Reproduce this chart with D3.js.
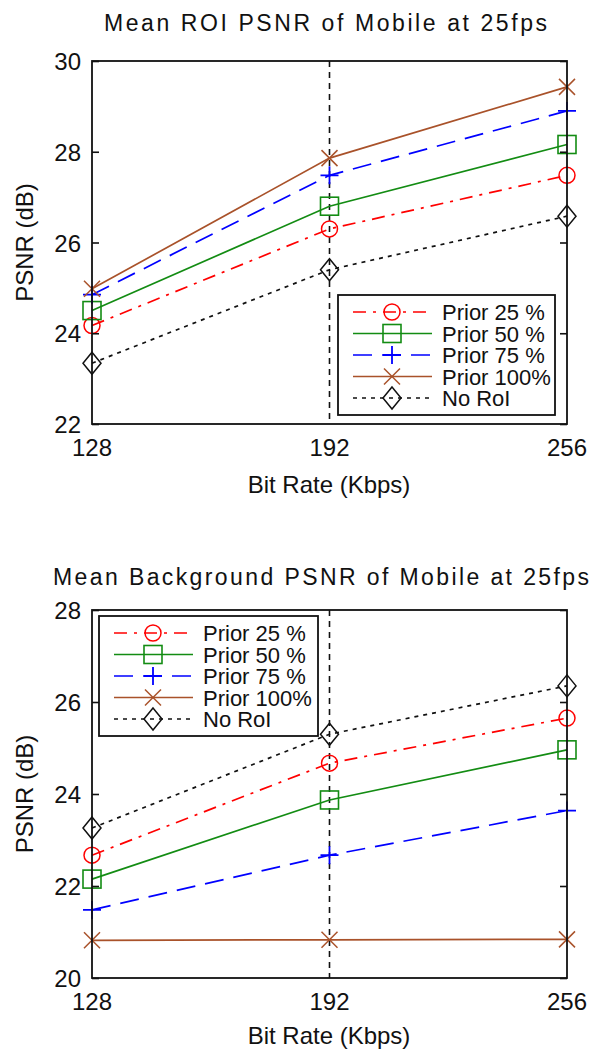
<!DOCTYPE html>
<html>
<head>
<meta charset="utf-8">
<script src="https://cdn.jsdelivr.net/npm/d3@7"></script>
<style>
  body { margin: 0; background: #fff; overflow: hidden; }
  svg text { font-family: "Liberation Sans", Arial, sans-serif; fill: #111; }
</style>
</head>
<body>
<div id="chart"></div>
<script>
// bit rates (Kbps)
const bitRates = [128, 192, 256];
const seriesNames = ['Prior 25 %', 'Prior 50 %', 'Prior 75 %', 'Prior 100%', 'No RoI'];

// mean ROI PSNR (dB)
const roiPrior25 = [24.17, 26.3, 27.48];
const roiPrior50 = [24.5, 26.8, 28.16];
const roiPrior75 = [24.85, 27.48, 28.9];
const roiPrior100 = [24.98, 27.86, 29.43];
const roiNoRoi = [23.34, 25.4, 26.58];

// mean background PSNR (dB)
const bgPrior25 = [22.67, 24.67, 25.65];
const bgPrior50 = [22.15, 23.87, 24.96];
const bgPrior75 = [21.48, 22.67, 23.64];
const bgPrior100 = [20.82, 20.83, 20.84];
const bgNoRoi = [23.26, 25.3, 26.35];

const roiTicks = [22, 24, 26, 28, 30];
const bgTicks = [20, 22, 24, 26, 28];

// line styles per series
const styles = [
  { color: '#ff0000', dash: '13,7,3,7', marker: 'circle' },
  { color: '#138c13', dash: null, marker: 'square' },
  { color: '#0000ff', dash: '19,10', marker: 'plus' },
  { color: '#a9522a', dash: null, marker: 'x' },
  { color: '#111111', dash: '4,5', marker: 'diamond' }
];

const svg = d3.select('#chart')
  .append('svg')
  .attr('width', 592)
  .attr('height', 1049);

function drawMarker(g, type, color, cx, cy) {
  if (type === 'circle') {
    g.append('circle').attr('cx', cx).attr('cy', cy).attr('r', 8)
      .attr('fill', 'none').attr('stroke', color).attr('stroke-width', 1.5);
  } else if (type === 'square') {
    g.append('rect').attr('x', cx - 9).attr('y', cy - 9).attr('width', 18).attr('height', 18)
      .attr('fill', 'none').attr('stroke', color).attr('stroke-width', 1.6);
  } else if (type === 'plus') {
    g.append('path').attr('d', `M${cx - 9},${cy}H${cx + 9}M${cx},${cy - 9}V${cy + 9}`)
      .attr('stroke', color).attr('stroke-width', 1.8);
  } else if (type === 'x') {
    g.append('path').attr('d', `M${cx - 8},${cy - 8}L${cx + 8},${cy + 8}M${cx - 8},${cy + 8}L${cx + 8},${cy - 8}`)
      .attr('stroke', color).attr('stroke-width', 1.5);
  } else if (type === 'diamond') {
    g.append('path').attr('d', `M${cx},${cy - 11}L${cx + 9},${cy}L${cx},${cy + 11}L${cx - 9},${cy}Z`)
      .attr('fill', 'none').attr('stroke', color).attr('stroke-width', 1.5);
  }
}

function drawPanel(cfg) {
  const x = d3.scaleLinear().domain([128, 256]).range([92, 567]);
  const y = d3.scaleLinear().domain([cfg.ticks[0], cfg.ticks[cfg.ticks.length - 1]]).range([cfg.bottom, cfg.top]);
  const g = svg.append('g');

  // title
  g.append('text')
    .attr('x', cfg.titleX)
    .attr('y', cfg.titleY)
    .attr('textLength', cfg.titleLen)
    .attr('lengthAdjust', 'spacing')
    .style('font-size', '23px')
    .text(cfg.title);

  // vertical dashed line at 192
  g.append('line')
    .attr('x1', x(192)).attr('x2', x(192))
    .attr('y1', cfg.top).attr('y2', cfg.bottom)
    .attr('stroke', '#111').attr('stroke-width', 1.6)
    .attr('stroke-dasharray', '6,5');

  // series lines
  cfg.series.forEach((vals, i) => {
    const st = styles[i];
    const line = d3.line().x((d, j) => x(bitRates[j])).y(d => y(d));
    g.append('path')
      .datum(vals)
      .attr('d', line)
      .attr('fill', 'none')
      .attr('stroke', st.color)
      .attr('stroke-width', 1.7)
      .attr('stroke-dasharray', st.dash);
    vals.forEach((v, j) => drawMarker(g, st.marker, st.color, x(bitRates[j]), y(v)));
  });

  // frame
  g.append('rect')
    .attr('x', 92).attr('y', cfg.top)
    .attr('width', 475).attr('height', cfg.bottom - cfg.top)
    .attr('fill', 'none').attr('stroke', '#111').attr('stroke-width', 1.8);

  // y axis ticks (inward both sides)
  const yAxisL = d3.axisRight(y).tickValues(cfg.ticks).tickSize(7).tickFormat('');
  const yAxisR = d3.axisLeft(y).tickValues(cfg.ticks).tickSize(7).tickFormat('');
  const gl = g.append('g').attr('transform', 'translate(92,0)').call(yAxisL);
  const gr = g.append('g').attr('transform', 'translate(567,0)').call(yAxisR);
  [gl, gr].forEach(a => {
    a.select('.domain').remove();
    a.selectAll('line').attr('stroke', '#111').attr('stroke-width', 1.6);
  });

  // y tick labels
  g.selectAll('.ylab')
    .data(cfg.ticks)
    .enter()
    .append('text')
    .attr('x', 81)
    .attr('y', d => y(d) + 9)
    .attr('text-anchor', 'end')
    .style('font-size', '24px')
    .text(d => d);

  // x tick labels
  g.selectAll('.xlab')
    .data(bitRates)
    .enter()
    .append('text')
    .attr('x', d => x(d))
    .attr('y', cfg.bottom + 32)
    .attr('text-anchor', 'middle')
    .style('font-size', '24px')
    .text(d => d);

  // axis labels
  g.append('text')
    .attr('x', 329)
    .attr('y', cfg.bottom + cfg.xLabelOff)
    .attr('text-anchor', 'middle')
    .style('font-size', '24px')
    .text('Bit Rate (Kbps)');
  g.append('text')
    .attr('transform', `translate(33,${(cfg.top + cfg.bottom) / 2}) rotate(-90)`)
    .attr('text-anchor', 'middle')
    .style('font-size', '24px')
    .text('PSNR (dB)');

  // legend
  const L = cfg.legend;
  g.append('rect')
    .attr('x', L.x).attr('y', L.y)
    .attr('width', L.w).attr('height', L.h)
    .attr('fill', '#fff').attr('stroke', '#111').attr('stroke-width', 1.8);
  seriesNames.forEach((name, i) => {
    const st = styles[i];
    const ly = L.y + 17 + i * 21.5;
    g.append('line')
      .attr('x1', L.x + 15).attr('x2', L.x + 94)
      .attr('y1', ly).attr('y2', ly)
      .attr('stroke', st.color).attr('stroke-width', 1.7)
      .attr('stroke-dasharray', st.dash);
    drawMarker(g, st.marker, st.color, L.x + 54, ly);
    g.append('text')
      .attr('x', L.x + 104)
      .attr('y', ly + 8)
      .style('font-size', '22px')
      .text(name);
  });
}

drawPanel({
  title: 'Mean ROI PSNR of Mobile at 25fps',
  titleX: 104, titleY: 31, titleLen: 443,
  top: 61, bottom: 424, xLabelOff: 69,
  ticks: roiTicks,
  series: [roiPrior25, roiPrior50, roiPrior75, roiPrior100, roiNoRoi],
  legend: { x: 338, y: 295, w: 217, h: 120 }
});

drawPanel({
  title: 'Mean Background PSNR of Mobile at 25fps',
  titleX: 53, titleY: 585, titleLen: 536,
  top: 610, bottom: 978, xLabelOff: 66,
  ticks: bgTicks,
  series: [bgPrior25, bgPrior50, bgPrior75, bgPrior100, bgNoRoi],
  legend: { x: 99, y: 616, w: 219, h: 120 }
});
</script>
</body>
</html>
